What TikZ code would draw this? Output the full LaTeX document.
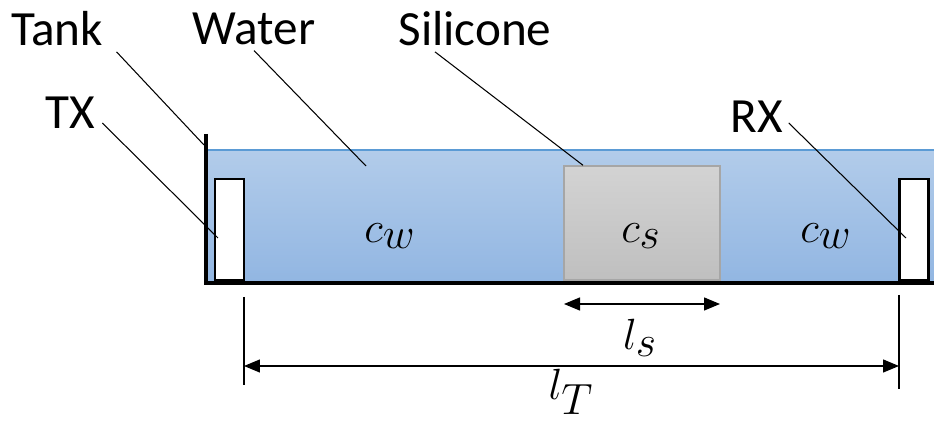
\documentclass[tikz,border=0pt]{standalone}
\usepackage{fontspec}
\setmainfont{Carlito}
\usetikzlibrary{arrows.meta,positioning,calc}
\definecolor{WaterTop}{HTML}{B2CCEA}
\definecolor{WaterBot}{HTML}{92B6E2}
\definecolor{WaterLine}{HTML}{5B9BD5}
\definecolor{SiliTop}{HTML}{D3D3D3}
\definecolor{SiliBot}{HTML}{BFBFBF}
\definecolor{SiliLine}{HTML}{A6A6A6}
\tikzset{>={Triangle[length=3.2mm,width=2.6mm]},every node/.style={font=\fontsize{28}{32}\selectfont},
 tag/.style={inner sep=3pt},lead/.style={draw=black,line width=0.6pt},
 probe/.style={draw=black,fill=white,line width=1.3pt,inner sep=0pt,minimum width=29*0.02cm,minimum height=101*0.02cm},
 dim/.style={<->,line width=0.8pt},ext/.style={line width=0.7pt},
 sym/.style={font=\fontsize{34}{38}\selectfont}}
\begin{document}
\begin{tikzpicture}[x=0.02cm,y=-0.02cm]
\useasboundingbox (0,0) rectangle (934,422);
% water and tank
\shade[top color=WaterTop,bottom color=WaterBot] (208,150) rectangle (934,281);
\draw[WaterLine,line width=0.8pt] (208,150) -- (934,150);
\draw[line width=2.3pt] (206,134) -- (206,283) -- (934,283);
\node[draw=SiliLine,line width=0.8pt,top color=SiliTop,bottom color=SiliBot,inner sep=0pt,
 minimum width=156*0.02cm,minimum height=114*0.02cm] (sili) at (642,223) {};
\node[probe] (txbox) at (229.5,229.5) {};
\node[probe] (rxbox) at (914,229.5) {};
\node[sym] (cw1) at (390,236) {$c_w$};
\node[sym] (cs) at (641,236) {$c_s$};
\node[sym] (cw2) at (826,236) {$c_w$};
% labels
\node[tag] (tank) at (57,29) {Tank};
\node[tag] (water) at (254,29) {Water};
\node[tag] (silicone) at (475,29) {Silicone};
\node[tag] (tx) at (70,113) {TX};
\node[tag] (rx) at (757,117) {RX};
\coordinate (tankpt) at (204,145);
\coordinate (waterpt) at (366,166);
\coordinate (txpt) at (218,238);
\coordinate (rxpt) at (906,238);
\draw[lead] ($(tank.south east)+(8,0)$) -- (tankpt);
\draw[lead] (water.south) -- (waterpt);
\draw[lead] ($(silicone.south)+(-40,0)$) -- (sili.north west -| 583,0);
\draw[lead] ($(tx.east)+(2,10)$) -- (txpt);
\draw[lead] ($(rx.east)+(0,6)$) -- (rxpt);
% dimensions
\coordinate (ls1) at (564,304);
\coordinate (ls2) at (720,304);
\draw[dim] (ls1) -- (ls2);
\node[sym] (ls) at (640,338) {$l_s$};
\coordinate (lt1) at (244,366);
\coordinate (lt2) at (899,366);
\draw[ext] (244,297) -- (244,385);
\draw[ext] (899,295) -- (899,389);
\draw[dim] (lt1) -- (lt2);
\node[sym] (lt) at (571,392) {$l_T$};
\end{tikzpicture}
\end{document}
